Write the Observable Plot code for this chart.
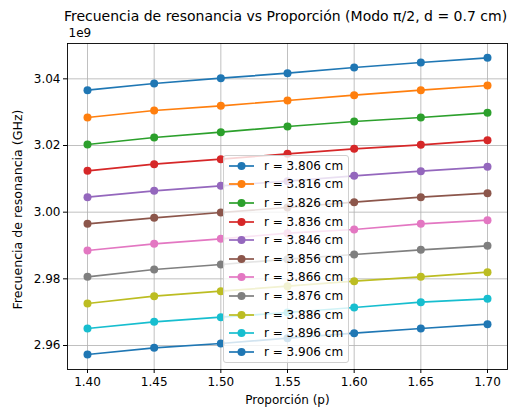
<!DOCTYPE html>
<html><head><meta charset="utf-8">
<script src="https://cdn.jsdelivr.net/npm/d3@7"></script>
<script src="https://cdn.jsdelivr.net/npm/@observablehq/plot@0.6"></script>
<style>
body{margin:0;background:#fff;font-family:"DejaVu Sans",sans-serif}
#wrap{position:relative;width:523px;height:410px}
#legend{position:absolute;left:223px;top:155px;width:126px;height:208px;background:rgba(255,255,255,0.8);border:1px solid #d0d0d0;border-radius:3px;box-sizing:border-box;padding-top:0.5px}
.row{display:flex;align-items:center;height:18.6px;font-size:12px;color:#000;white-space:nowrap}
.row svg{flex:none}
</style></head><body><div id="wrap"></div>
<script>
const proportion = [1.40, 1.45, 1.50, 1.55, 1.60, 1.65, 1.70];
const radii = ["3.806", "3.816", "3.826", "3.836", "3.846", "3.856", "3.866", "3.876", "3.886", "3.896", "3.906"];
const f3806 = [3.0366, 3.0386, 3.0402, 3.0417, 3.0434, 3.0449, 3.0463];
const f3816 = [3.0284, 3.0305, 3.0319, 3.0335, 3.0351, 3.0366, 3.0380];
const f3826 = [3.0203, 3.0224, 3.0240, 3.0257, 3.0272, 3.0284, 3.0298];
const f3836 = [3.0124, 3.0144, 3.0159, 3.0175, 3.0190, 3.0202, 3.0216];
const f3846 = [3.0045, 3.0064, 3.0079, 3.0093, 3.0109, 3.0123, 3.0136];
const f3856 = [2.9965, 2.9983, 2.9999, 3.0014, 3.0030, 3.0045, 3.0057];
const f3866 = [2.9885, 2.9905, 2.9920, 2.9937, 2.9948, 2.9965, 2.9976];
const f3876 = [2.9806, 2.9828, 2.9843, 2.9859, 2.9873, 2.9887, 2.9899];
const f3886 = [2.9726, 2.9748, 2.9763, 2.9778, 2.9793, 2.9806, 2.9820];
const f3896 = [2.9651, 2.9671, 2.9685, 2.9699, 2.9714, 2.9730, 2.9740];
const f3906 = [2.9573, 2.9593, 2.9606, 2.9622, 2.9637, 2.9651, 2.9664];
const xTicks = [1.40, 1.45, 1.50, 1.55, 1.60, 1.65, 1.70];
const yTicks = [2.96, 2.98, 3.00, 3.02, 3.04];
const colors = ["#1f77b4", "#ff7f0e", "#2ca02c", "#d62728", "#9467bd", "#8c564b", "#e377c2", "#7f7f7f", "#bcbd22", "#17becf", "#1f77b4"];
const title = "Frecuencia de resonancia vs Proporción (Modo π/2, d = 0.7 cm)";
const xLabel = "Proporción (p)";
const yLabel = "Frecuencia de resonancia (GHz)";
const exponent = "1e9";

const seriesList = [f3806, f3816, f3826, f3836, f3846, f3856, f3866, f3876, f3886, f3896, f3906];
const labels = radii.map(r => `r = ${r} cm`);
const rows = [];
seriesList.forEach((vals, i) => vals.forEach((f, j) => rows.push({p: proportion[j], f, r: labels[i]})));

const font = "DejaVu Sans";
const chart = Plot.plot({
  width: 523, height: 410,
  marginLeft: 67, marginRight: 16, marginTop: 43, marginBottom: 41,
  style: {fontFamily: font, fontSize: "12px", color: "black", background: "white", overflow: "visible"},
  x: {domain: [1.385, 1.715]},
  y: {domain: [2.9528, 3.0506]},
  color: {domain: labels, range: colors},
  marks: [
    Plot.gridX(xTicks, {stroke: "#b0b0b0", strokeOpacity: 1, strokeWidth: 0.8}),
    Plot.gridY(yTicks, {stroke: "#b0b0b0", strokeOpacity: 1, strokeWidth: 0.8}),
    Plot.axisX(xTicks, {tickSize: 4, tickPadding: 4, tickFormat: d3.format(".2f"), label: null, fontSize: 12}),
    Plot.axisY(yTicks, {tickSize: 4, tickPadding: 3, tickFormat: d3.format(".2f"), label: null, fontSize: 12}),
    Plot.line(rows, {x: "p", y: "f", z: "r", stroke: "r", strokeWidth: 1.7}),
    Plot.dot(rows, {x: "p", y: "f", fill: "r", r: 4}),
    Plot.frame({stroke: "black", strokeWidth: 0.9}),
    Plot.text([title], {text: d => d, frameAnchor: "top", dx: -2, dy: -27, fontSize: 14, textAnchor: "middle", lineAnchor: "middle"}),
    Plot.text([exponent], {text: d => d, frameAnchor: "top-left", dx: 1, dy: -10, fontSize: 12, textAnchor: "start", lineAnchor: "middle"}),
    Plot.text([xLabel], {text: d => d, frameAnchor: "bottom", dy: 31, fontSize: 12, textAnchor: "middle", lineAnchor: "middle"}),
    Plot.text([yLabel], {text: d => d, frameAnchor: "left", dx: -50, dy: 3, rotate: -90, fontSize: 12.6, textAnchor: "middle", lineAnchor: "middle"})
  ]
});
const wrap = document.getElementById("wrap");
wrap.appendChild(chart);

const legend = document.createElement("div");
legend.id = "legend";
labels.forEach((lab, i) => {
  const row = document.createElement("div");
  row.className = "row";
  const c = colors[i];
  row.innerHTML = `<svg width="40" height="12"><line x1="5" x2="30" y1="6" y2="6" stroke="${c}" stroke-width="1.7"/><circle cx="17.5" cy="6" r="4" fill="${c}"/></svg><span>${lab}</span>`;
  legend.appendChild(row);
});
wrap.appendChild(legend);
</script>
</body></html>
